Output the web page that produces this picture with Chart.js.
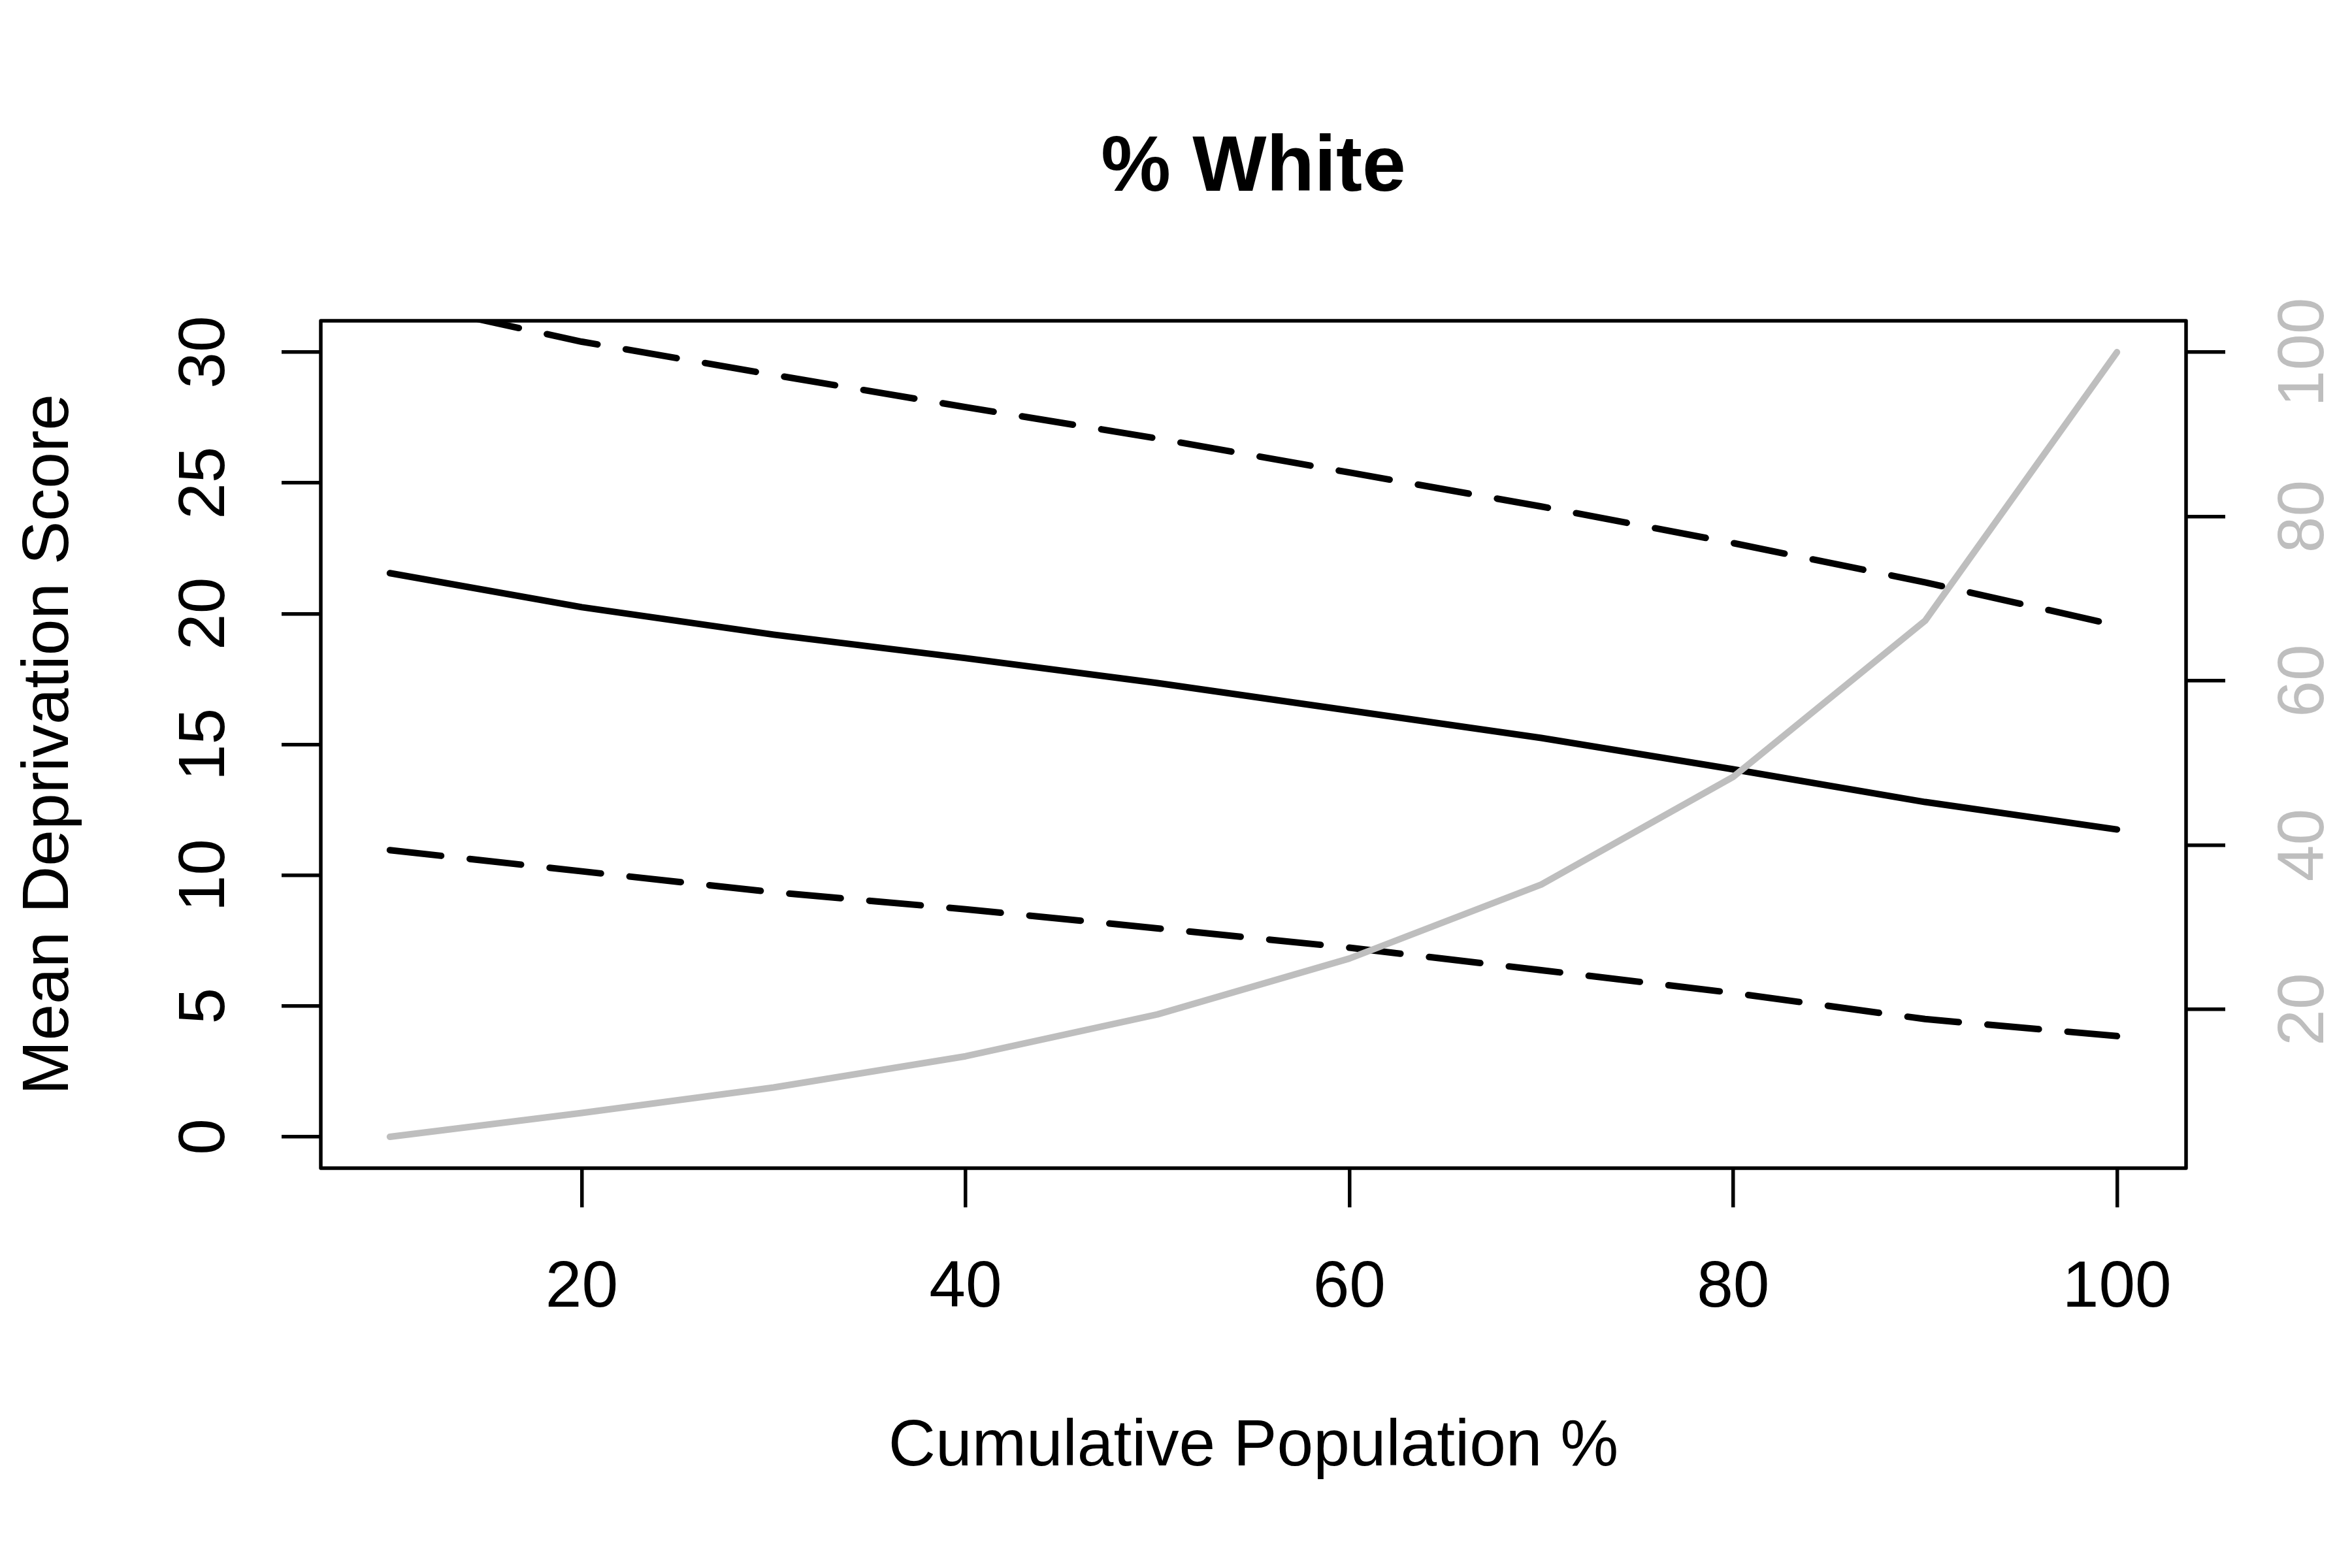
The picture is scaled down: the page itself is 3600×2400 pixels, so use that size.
<!DOCTYPE html>
<html>
<head>
<meta charset="utf-8">
<script src="https://cdn.jsdelivr.net/npm/chart.js@4.4.0/dist/chart.umd.min.js"></script>
<style>
  html, body { margin: 0; padding: 0; background: #fff; }
  #contenedor { width: 3600px; height: 2400px; }
</style>
</head>
<body>
<div id="contenedor"><canvas id="area-grafico" width="3600" height="2400"></canvas></div>
<script>
// valores
const poblacion = [10, 20, 30, 40, 50, 60, 70, 80, 90, 100];
const puntajeMedio = [21.55, 20.25, 19.2, 18.3, 17.35, 16.3, 15.25, 14.05, 12.8, 11.75];
const limiteSuperior = [32.0, 30.4, 29.13, 27.9, 26.7, 25.4, 24.1, 22.7, 21.2, 19.55];
const limiteInferior = [10.96, 10.15, 9.35, 8.7, 7.97, 7.23, 6.37, 5.5, 4.5, 3.85];
const porcentajeBlanco = [4.5, 7.4, 10.5, 14.3, 19.4, 26.2, 35.2, 48.3, 67.3, 100];

const ticksX = [20, 40, 60, 80, 100];
const ticksY = [0, 5, 10, 15, 20, 25, 30];
const ticksY1 = [20, 40, 60, 80, 100];

const fuente = "'Liberation Sans', Arial, sans-serif";
const gris = '#BEBEBE';

function puntos(valores) {
    return poblacion.map((x, i) => ({ x: x, y: valores[i] }));
}

function linea(valores, color, eje, guiones) {
    return {
        data: puntos(valores),
        yAxisID: eje,
        borderColor: color,
        borderWidth: 10,
        borderDash: guiones,
        borderCapStyle: 'round',
        borderJoinStyle: 'round',
        pointRadius: 0,
        tension: 0,
        fill: false,
        clip: 0
    };
}

const marcas = {
    display: true,
    drawOnChartArea: false,
    drawTicks: true,
    tickLength: 60,
    tickWidth: 5.5,
    lineWidth: 5.5,
    tickColor: '#000',
    color: '#000'
};

// fondo blanco y caja alrededor del area de trazado
const marco = {
    id: 'marco',
    beforeDraw(chart) {
        const ctx = chart.ctx;
        ctx.save();
        ctx.fillStyle = '#fff';
        ctx.fillRect(0, 0, chart.width, chart.height);
        ctx.restore();
    },
    afterDraw(chart) {
        const a = chart.chartArea;
        const ctx = chart.ctx;
        ctx.save();
        ctx.strokeStyle = '#000';
        ctx.lineWidth = 5.5;
        ctx.lineJoin = 'round';
        ctx.strokeRect(a.left, a.top, a.right - a.left, a.bottom - a.top);
        ctx.restore();
    }
};

const ctx = document.getElementById('area-grafico');

const myChart = new Chart(ctx, {
    type: 'line',
    data: {
        datasets: [
            linea(porcentajeBlanco, gris, 'y1', []),
            linea(puntajeMedio, '#000', 'y', []),
            linea(limiteSuperior, '#000', 'y', [79, 44]),
            linea(limiteInferior, '#000', 'y', [79, 44])
        ]
    },
    options: {
        responsive: false,
        devicePixelRatio: 1,
        animation: false,
        layout: { padding: 0 },
        plugins: {
            legend: { display: false },
            tooltip: { enabled: false },
            title: {
                display: true,
                text: '% White',
                color: '#000',
                fullSize: false,
                font: { family: fuente, size: 120, weight: 'bold' },
                padding: { top: 187, bottom: 160 }
            }
        },
        scales: {
            x: {
                type: 'linear',
                position: 'bottom',
                min: 6.4,
                max: 103.6,
                afterBuildTicks: (s) => { s.ticks = ticksX.map(v => ({ value: v })); },
                afterFit: (s) => { s.height = 612; },
                border: { display: false },
                grid: marcas,
                ticks: {
                    color: '#000',
                    font: { family: fuente, size: 100 },
                    padding: 64,
                    autoSkip: false,
                    maxRotation: 0
                },
                title: {
                    display: true,
                    text: 'Cumulative Population %',
                    color: '#000',
                    font: { family: fuente, size: 100 },
                    padding: { top: 0, bottom: 125 }
                }
            },
            y: {
                type: 'linear',
                position: 'left',
                min: -1.2,
                max: 31.2,
                afterBuildTicks: (s) => { s.ticks = ticksY.map(v => ({ value: v })); },
                afterFit: (s) => { s.width = 491; },
                border: { display: false },
                grid: marcas,
                ticks: {
                    color: '#000',
                    font: { family: fuente, size: 100 },
                    padding: 60,
                    autoSkip: false,
                    minRotation: 90,
                    maxRotation: 90,
                    crossAlign: 'center'
                },
                title: {
                    display: true,
                    text: 'Mean Deprivation Score',
                    color: '#000',
                    font: { family: fuente, size: 100 },
                    padding: { top: 16, bottom: 0 }
                }
            },
            y1: {
                type: 'linear',
                position: 'right',
                min: 0.68,
                max: 103.82,
                afterBuildTicks: (s) => { s.ticks = ticksY1.map(v => ({ value: v })); },
                afterFit: (s) => { s.width = 254; },
                border: { display: false },
                grid: marcas,
                ticks: {
                    color: gris,
                    font: { family: fuente, size: 100 },
                    padding: 39,
                    autoSkip: false,
                    minRotation: 90,
                    maxRotation: 90,
                    crossAlign: 'center'
                }
            }
        }
    },
    plugins: [marco]
});
</script>
</body>
</html>
